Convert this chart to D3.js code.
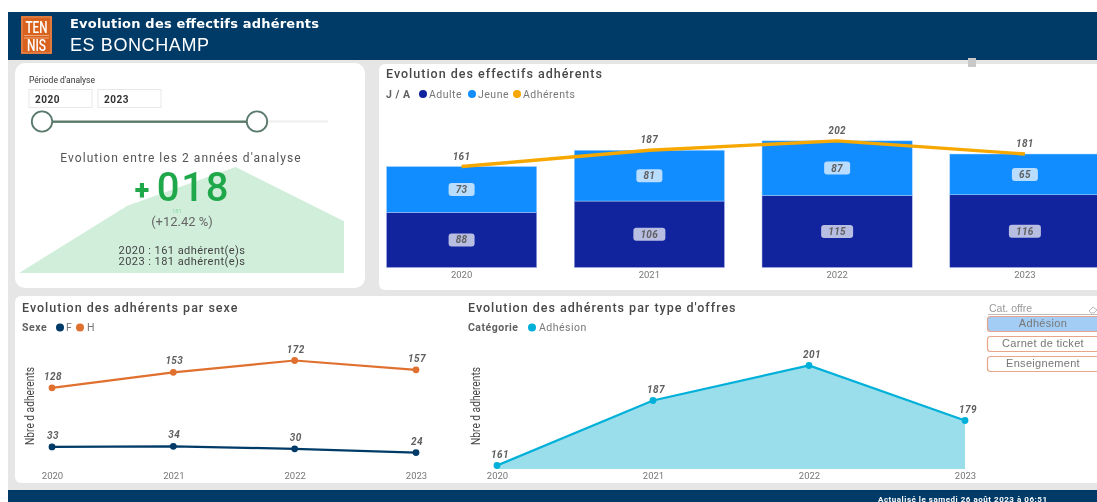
<!DOCTYPE html>
<html>
<head>
  <meta charset="utf-8">
  <title>Evolution des effectifs adhérents</title>
  <script src="https://d3js.org/d3.v7.min.js"></script>
  <style>
    html, body { margin: 0; overflow: hidden; height: 100%; background: #fff; }
    svg { display: block; filter: blur(0.35px); }
    text { font-family: Roboto, sans-serif; }
    .title { font-size: 12.5px; fill: #484848; letter-spacing: 1px; font-weight: 500; }
    .legend { font-size: 10.5px; fill: #777; letter-spacing: 0.5px; }
    .legendTitle { font-size: 10.5px; fill: #606060; font-weight: 700; letter-spacing: 0.5px; }
    .val { font-size: 10px; font-style: italic; font-weight: 700; fill: #606060; letter-spacing: 0.4px; text-anchor: middle; }
    .axis text { font-size: 9.5px; fill: #777; }
    .ytitle { font-size: 12px; fill: #444; text-anchor: middle; }
    .btn { font-family: "Liberation Sans", sans-serif; font-size: 11px; fill: #777; text-anchor: middle; letter-spacing: 0.3px; }
  </style>
</head>
<body>
<svg width="1097" height="502"></svg>

<script>
const years = ["2020", "2021", "2022", "2023"];
const adulte = [88, 106, 115, 116];
const jeune = [73, 81, 87, 65];
const adherents = [161, 187, 202, 181];
const sexeF = [33, 34, 30, 24];
const sexeH = [128, 153, 172, 157];
const adhesion = [161, 187, 201, 179];
const offres = ["Adhésion", "Carnet de ticket", "Enseignement"];

const svg = d3.select("svg");
const navy = "#003b68";

function rect(x, y, w, h, fill, r) {
  return svg.append("rect").attr("x", x).attr("y", y).attr("width", w).attr("height", h)
    .attr("fill", fill).attr("rx", r || 0);
}
function label(x, y, txt, cls) {
  return svg.append("text").attr("x", x).attr("y", y).attr("class", cls || null).text(txt);
}
function xAxis(scale, y) {
  const g = svg.append("g").attr("class", "axis").attr("transform", `translate(0,${y})`)
    .call(d3.axisBottom(scale).tickSize(0).tickPadding(0));
  g.select(".domain").remove();
}
function legendDot(x, y, color) {
  svg.append("circle").attr("cx", x).attr("cy", y).attr("r", 4).attr("fill", color);
}

// fond et bandeaux
rect(8, 12, 1089, 490, "#e6e6e6");
rect(8, 12, 1089, 48, navy);
rect(8, 490, 1089, 12, navy);

// logo
rect(21, 16, 31, 38, "#d9631e");
svg.append("rect").attr("x", 22).attr("y", 17).attr("width", 29).attr("height", 36)
  .attr("fill", "none").attr("stroke", "#f0b48c").attr("stroke-width", 0.6);
label(25.5, 32.5, "TEN").attr("fill", "#fff").attr("font-size", 16).attr("font-weight", 500)
  .attr("textLength", 22).attr("lengthAdjust", "spacingAndGlyphs");
label(27, 51, "NIS").attr("fill", "#fff").attr("font-size", 16).attr("font-weight", 500)
  .attr("textLength", 19).attr("lengthAdjust", "spacingAndGlyphs");
rect(24, 35, 25, 1, "#eea77a");
rect(24, 37.5, 25, 1, "#eea77a");

label(70, 28, "Evolution des effectifs adhérents").attr("fill", "#fff")
  .style("font-family", "'DejaVu Sans'").attr("font-size", 13).attr("font-weight", 700).attr("textLength", 249);
label(70, 51, "ES BONCHAMP").attr("fill", "#fff")
  .style("font-family", "'Liberation Sans'").attr("font-size", 18).attr("textLength", 139);

// cartes
rect(15, 63, 350, 225, "#fff", 10);
rect(379, 64, 730, 226, "#fff", 6);
rect(15, 296, 1100, 187, "#fff", 6);
rect(968, 58, 8, 9, "#c8c8c8");

// carte de gauche : période
label(29, 83, "Période d'analyse").attr("font-size", 8.5).attr("fill", "#333");
[[29, years[0]], [98, years[3]]].forEach(d => {
  svg.append("rect").attr("x", d[0]).attr("y", 89.5).attr("width", 63).attr("height", 18)
    .attr("fill", "#fff").attr("stroke", "#e8e8e8");
  label(d[0] + 6, 103, d[1]).attr("font-size", 10).attr("font-weight", 700).attr("fill", "#333").attr("letter-spacing", 0.5);
});
rect(267, 120.5, 61, 2, "#eeeeee");
rect(52, 120.5, 196, 2.4, "#5a7a6c");
[42, 257].forEach(cx => {
  svg.append("circle").attr("cx", cx).attr("cy", 121.5).attr("r", 10.2)
    .attr("fill", "#fff").attr("stroke", "#5a7a6c").attr("stroke-width", 1.8);
});

// aire verte de la carte de gauche
const xKpi = d3.scalePoint().domain(years).range([19, 344]);
const yKpi = d3.scaleLinear().domain([161, 202]).range([273, 167]);
svg.append("path").attr("fill", "#d0eeda")
  .attr("d", d3.area().x((d, i) => xKpi(years[i])).y0(273).y1(d => yKpi(d))(adherents));

label(181, 162, "Evolution entre les 2 années d'analyse").attr("text-anchor", "middle")
  .attr("font-size", 12).attr("fill", "#555").attr("letter-spacing", 1.05);
label(142, 199, "+").attr("text-anchor", "middle").attr("font-size", 27).attr("font-weight", 900).attr("fill", "#1fa84a");
label(193.5, 201, "018").attr("text-anchor", "middle").attr("font-size", 40).attr("font-weight", 500).attr("fill", "#1fa84a").attr("letter-spacing", 1.8);
label(177, 213, "181").attr("text-anchor", "middle").attr("font-size", 6).attr("fill", "#8fd6a8");
label(182, 226, "(+12.42 %)").attr("text-anchor", "middle").attr("font-size", 13).attr("fill", "#666");
label(182, 254, "2020 : 161 adhérent(e)s").attr("text-anchor", "middle").attr("font-size", 11).attr("fill", "#444").attr("letter-spacing", 0.45);
label(182, 265, "2023 : 181 adhérent(e)s").attr("text-anchor", "middle").attr("font-size", 11).attr("fill", "#444").attr("letter-spacing", 0.45);

// effectifs : barres empilées + ligne
label(386, 78, "Evolution des effectifs adhérents", "title");
label(386, 98, "J / A", "legendTitle");
legendDot(423, 94, "#12239e"); label(429, 98, "Adulte", "legend");
legendDot(472, 94, "#118dff"); label(478, 98, "Jeune", "legend");
legendDot(517, 94, "#f7a800"); label(523, 98, "Adhérents", "legend");

const xBar = d3.scaleBand().domain(years).range([386.5, 1100]).paddingInner(0.2).paddingOuter(0);
const yBar = d3.scaleLinear().domain([0, 250]).range([267.5, 110.75]);

svg.append("g").selectAll("rect").data(years).enter().append("rect")
  .attr("x", d => xBar(d)).attr("width", xBar.bandwidth())
  .attr("y", (d, i) => yBar(adulte[i])).attr("height", (d, i) => yBar(0) - yBar(adulte[i]))
  .attr("fill", "#12239e").attr("stroke", "#a9b4e8").attr("stroke-width", 0.5);
svg.append("g").selectAll("rect").data(years).enter().append("rect")
  .attr("x", d => xBar(d)).attr("width", xBar.bandwidth())
  .attr("y", (d, i) => yBar(adulte[i] + jeune[i])).attr("height", (d, i) => yBar(0) - yBar(jeune[i]))
  .attr("fill", "#118dff").attr("stroke", "#a8d4ff").attr("stroke-width", 0.5);

function pill(cx, cy, v) {
  const w = String(v).length > 2 ? 32 : 26;
  svg.append("rect").attr("x", cx - w / 2).attr("y", cy - 6.5).attr("width", w).attr("height", 13)
    .attr("rx", 3).attr("fill", "#fff").attr("fill-opacity", 0.7);
  label(cx, cy + 3.5, v, "val");
}
years.forEach((y, i) => {
  const cx = xBar(y) + xBar.bandwidth() / 2;
  pill(cx, (yBar(0) + yBar(adulte[i])) / 2, adulte[i]);
  pill(cx, (yBar(adulte[i]) + yBar(adulte[i] + jeune[i])) / 2, jeune[i]);
});
const lineBar = d3.line().x((d, i) => xBar(years[i]) + xBar.bandwidth() / 2).y(d => yBar(d));
svg.append("path").attr("fill", "none").attr("stroke", "#f7a800").attr("stroke-width", 3.4)
  .attr("d", lineBar(adherents));
adherents.forEach((v, i) => label(xBar(years[i]) + xBar.bandwidth() / 2, yBar(v) - 7, v, "val"));
xAxis(xBar, 271);

// adhérents par sexe
label(22, 312, "Evolution des adhérents par sexe", "title");
label(22, 331, "Sexe", "legendTitle");
legendDot(60, 327.5, navy); label(66, 331, "F", "legend");
legendDot(80, 327.5, "#e0702f"); label(87, 331, "H", "legend");
svg.append("text").attr("class", "ytitle").attr("transform", "translate(34,406) rotate(-90)")
  .attr("textLength", 78).attr("lengthAdjust", "spacingAndGlyphs").text("Nbre d adherents");

const xSexe = d3.scalePoint().domain(years).range([52, 416]);
const ySexe = d3.scaleLinear().domain([0, 172]).range([467.5, 360.5]);
const lineSexe = d3.line().x((d, i) => xSexe(years[i])).y(d => ySexe(d));
[[sexeH, "#e0702f"], [sexeF, navy]].forEach(s => {
  svg.append("path").attr("fill", "none").attr("stroke", s[1]).attr("stroke-width", 2.2).attr("d", lineSexe(s[0]));
  svg.append("g").selectAll("circle").data(s[0]).enter().append("circle")
    .attr("cx", (d, i) => xSexe(years[i])).attr("cy", d => ySexe(d)).attr("r", 3.4).attr("fill", s[1]);
  s[0].forEach((v, i) => label(xSexe(years[i]) + 1, ySexe(v) - 8, v, "val"));
});
xAxis(xSexe, 472);

// adhérents par type d'offres
label(468, 312, "Evolution des adhérents par type d'offres", "title");
label(468, 331, "Catégorie", "legendTitle");
legendDot(532, 327.5, "#00b0d8"); label(539, 331, "Adhésion", "legend");
svg.append("text").attr("class", "ytitle").attr("transform", "translate(480,406) rotate(-90)")
  .attr("textLength", 78).attr("lengthAdjust", "spacingAndGlyphs").text("Nbre d adherents");

const xOffre = d3.scalePoint().domain(years).range([497, 965]);
const yOffre = d3.scaleLinear().domain([159.6, 201]).range([469, 365.5]);
svg.append("path").attr("fill", "#9adeec")
  .attr("d", d3.area().x((d, i) => xOffre(years[i])).y0(469).y1(d => yOffre(d))(adhesion));
svg.append("path").attr("fill", "none").attr("stroke", "#00b0d8").attr("stroke-width", 2.2)
  .attr("d", d3.line().x((d, i) => xOffre(years[i])).y(d => yOffre(d))(adhesion));
svg.append("g").selectAll("circle").data(adhesion).enter().append("circle")
  .attr("cx", (d, i) => xOffre(years[i])).attr("cy", d => yOffre(d)).attr("r", 3.4).attr("fill", "#00b0d8");
adhesion.forEach((v, i) => label(xOffre(years[i]) + 3, yOffre(v) - 8, v, "val"));
xAxis(xOffre, 472);

// segment Cat. offre
label(989, 312, "Cat. offre").style("font-family", "'Liberation Sans'").attr("font-size", 10.5).attr("fill", "#999");
rect(988, 314, 109, 1, "#bbbbbb");
svg.append("path").attr("fill", "none").attr("stroke", "#bbb").attr("d", "M1089 311 l4 -4 l4 3 l-3 3 h-3 z");
offres.forEach((o, i) => {
  svg.append("rect").attr("x", 987.5).attr("y", 316.5 + i * 20).attr("width", 120).attr("height", 15)
    .attr("rx", 3).attr("fill", i === 0 ? "#a3cdf5" : "#fff").attr("stroke", "#e8a58a").attr("stroke-width", 1.2);
  label(1043, 326.8 + i * 20, o, "btn");
});

// pied de page
label(878, 502, "Actualisé le samedi 26 août 2023 à 06:51").attr("fill", "#fff")
  .attr("font-size", 8).attr("font-weight", 700).attr("textLength", 169);
</script>
</body>
</html>
